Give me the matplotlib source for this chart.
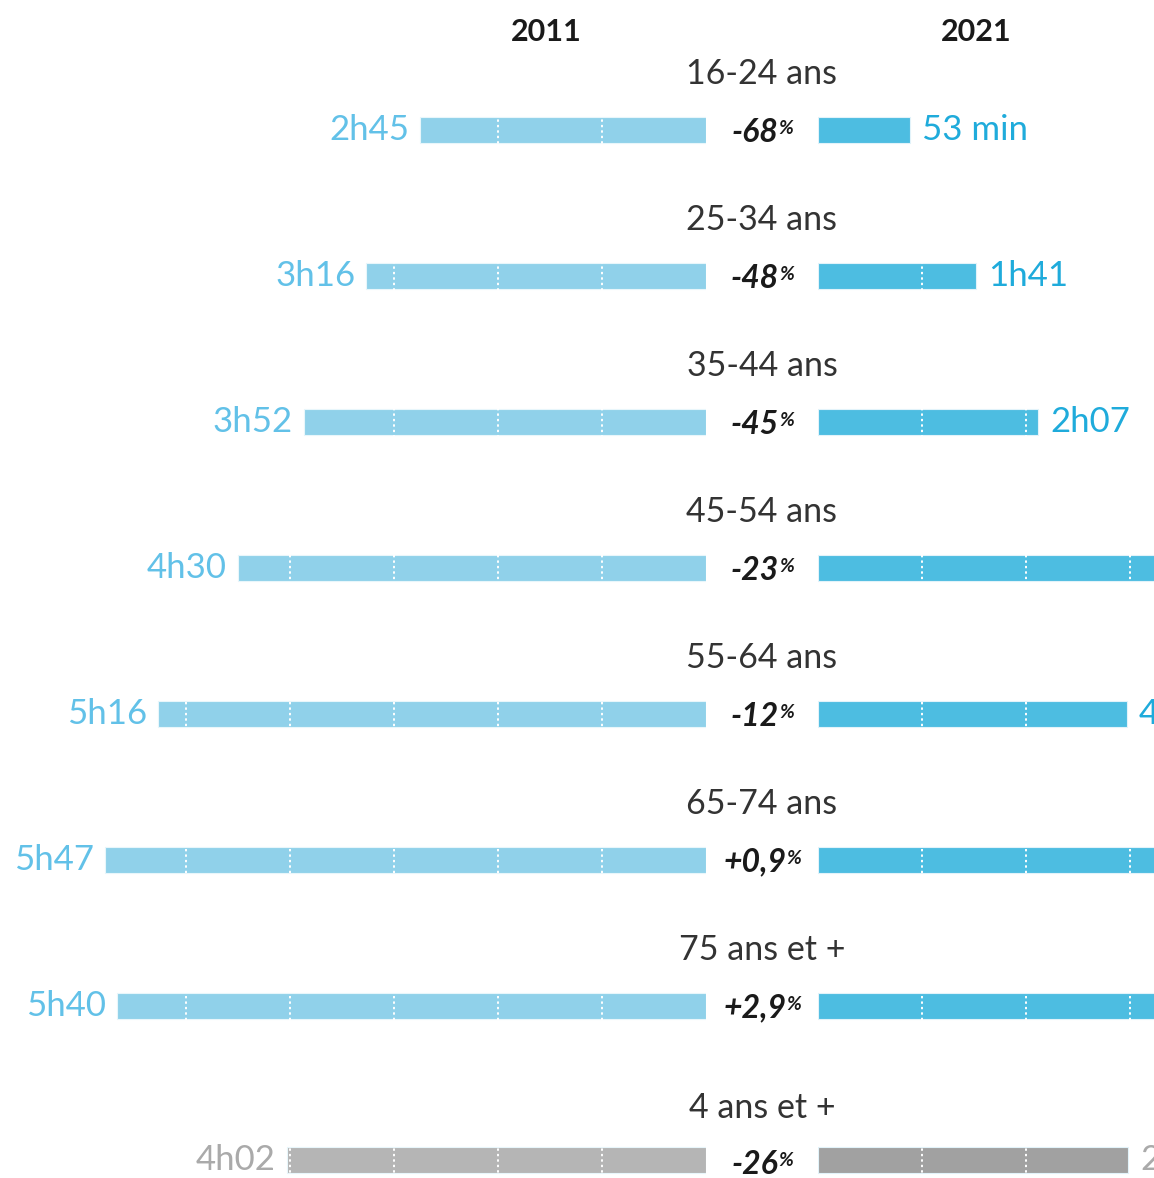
import matplotlib
matplotlib.use("Agg")
import matplotlib.pyplot as plt
import numpy as np

# ---- data ----
categories = ["16-24 ans", "25-34 ans", "35-44 ans", "45-54 ans",
              "55-64 ans", "65-74 ans", "75 ans et +", "4 ans et +"]
minutes_2011 = [165, 196, 232, 270, 316, 347, 340, 242]
minutes_2021 = [53, 91, 127, 208, 178, 350, 350, 179]   # bar lengths as drawn
labels_2011 = ["2h45", "3h16", "3h52", "4h30", "5h16", "5h47", "5h40", "4h02"]
labels_2021 = ["53 min", "1h41", "2h07", "3h28", "4h38", "5h50", "5h50", "2h59"]
changes = ["-68", "-48", "-45", "-23", "-12", "+0,9", "+2,9", "-26"]
years = ["2011", "2021"]

# ---- layout ----
W, H = 1154, 1178
fig = plt.figure(figsize=(W / 100, H / 100), dpi=100)
fig.patch.set_facecolor("white")
PX_PER_MIN = 104 / 60.0
XL0 = 706   # end of left bars (px)
XR0 = 818   # start of right bars (px)

ypos = np.array([130 + 146 * i for i in range(len(categories))], dtype=float)
ypos[-1] += 8
bar_h = 26

axL = fig.add_axes([0, 0, XL0 / W, 1])
axR = fig.add_axes([XR0 / W, 0, (W - XR0) / W, 1])
ax0 = fig.add_axes([0, 0, 1, 1], zorder=-1)
for a in (axL, axR, ax0):
    a.set_ylim(H, 0)
    a.axis("off")
axL.set_xlim(XL0 / PX_PER_MIN, 0)
axR.set_xlim(0, (W - XR0) / PX_PER_MIN)
ax0.set_xlim(0, W)

blue_l, blue_r = "#90d1ea", "#4dbde1"
gray_l, gray_r = "#b5b5b5", "#a1a1a1"
lab_l, lab_r = "#62c1e8", "#1fabdb"
lab_gray = "#aaaaaa"

n = len(categories)
colL = [blue_l] * (n - 1) + [gray_l]
colR = [blue_r] * (n - 1) + [gray_r]
txtL = [lab_l] * (n - 1) + [lab_gray]
txtR = [lab_r] * (n - 1) + [lab_gray]

axL.barh(ypos, minutes_2011, height=bar_h, color=colL, edgecolor="#e8f6fb",
         linewidth=0.8, zorder=2)
axR.barh(ypos, minutes_2021, height=bar_h, color=colR, edgecolor="#e2f3fa",
         linewidth=0.8, zorder=2)

for a in (axL, axR):
    for m in range(60, 420, 60):
        a.axvline(m, color="white", linestyle=(0, (1.2, 1.6)), linewidth=1.4,
                  zorder=3)

fam = ["Lato", "DejaVu Sans"]
for i in range(n):
    y = ypos[i]
    axL.annotate(labels_2011[i], xy=(minutes_2011[i], y), xytext=(-11, 0),
                 textcoords="offset pixels", ha="right", va="center",
                 fontsize=25, color=txtL[i], family=fam)
    axR.annotate(labels_2021[i], xy=(minutes_2021[i], y), xytext=(12, 0),
                 textcoords="offset pixels", ha="left", va="center",
                 fontsize=25, color=txtR[i], family=fam,
                 annotation_clip=False)
    ax0.text(762, y - 56 - (-4 if i == n - 1 else 0), categories[i],
             ha="center", va="center", fontsize=24.5, color="#333333",
             family=fam)
    t = ax0.text(755, y + 2 + (2 if i == n - 1 else 0), changes[i],
                 ha="center", va="center", fontsize=23, color="#1a1a1a",
                 family=fam, fontweight="bold", fontstyle="italic")
    ax0.annotate("%", xy=(1, 1), xycoords=t, xytext=(0, -3),
                 textcoords="offset pixels", ha="left", va="top",
                 fontsize=14, color="#1a1a1a", family=fam,
                 fontweight="bold", fontstyle="italic")

ax0.text(546, 32, years[0], ha="center", va="center", fontsize=22,
         fontweight="bold", color="#1a1a1a", family=fam)
ax0.text(976, 32, years[1], ha="center", va="center", fontsize=22,
         fontweight="bold", color="#1a1a1a", family=fam)

fig.savefig("out.png", dpi=100, facecolor="white")
